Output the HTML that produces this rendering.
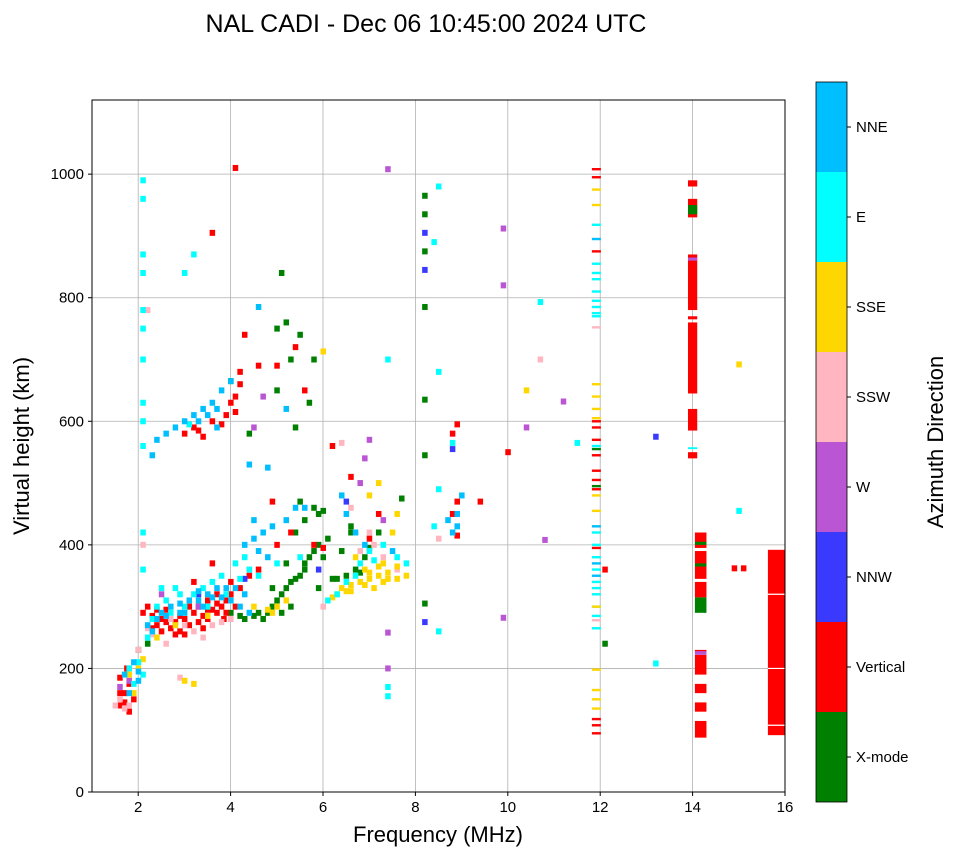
<!DOCTYPE html>
<html><head><meta charset="utf-8"><style>
body{margin:0;background:#fff;}
svg text{font-family:"Liberation Sans",sans-serif;}
</style></head><body>
<svg id="chart" width="958" height="857" xmlns="http://www.w3.org/2000/svg">
<text x="426" y="32" font-size="25" text-anchor="middle">NAL CADI - Dec 06 10:45:00 2024 UTC</text>
<g id="grid"></g><g id="marks"></g><g id="axes"></g><g id="cbar"></g>
</svg>
<script>
const categories=["X-mode","Vertical","NNW","W","SSW","SSE","E","NNE"];
const catColors=["#008000","#ff0000","#3a3aff","#ba55d3","#ffb6c1","#ffd700","#00ffff","#00bfff"];
const xTicks=[2,4,6,8,10,12,14,16];
const yTicks=[0,200,400,600,800,1000];
const xmodePts=[[2.0,230],[2.2,240],[4.0,290],[4.3,280],[4.5,285],[4.7,280],[4.9,300],[5.1,320],[5.3,340],[5.5,350],[5.7,380],[5.9,400],[5.4,420],[5.6,440],[5.8,460],[6.0,455],[5.2,370],[4.9,330],[6.3,345],[6.5,350],[6.7,360],[6.9,380],[7.2,420],[7.7,475],[6.6,430],[5.0,750],[5.5,740],[5.3,700],[5.0,650],[5.2,760],[5.1,840],[5.8,700],[5.7,630],[8.2,965],[8.2,935],[8.2,875],[8.2,785],[8.2,635],[8.2,545],[8.2,305],[12.1,240],[4.0,665],[4.4,580],[5.4,590],[4.6,290],[5.0,310],[5.6,360],[5.2,330],[5.4,345],[5.6,370],[5.8,390],[4.8,290],[5.3,300],[6.1,410],[6.4,390],[6.6,420],[7.0,395],[5.5,470],[5.9,450],[6.2,345],[6.8,355],[4.2,285],[5.1,290],[5.9,330],[6.0,380]];
const verticalPts=[[1.6,140],[1.7,160],[1.8,175],[1.6,185],[1.9,150],[1.75,200],[2.1,290],[2.2,300],[2.3,285],[2.4,270],[2.5,280],[2.6,295],[2.7,265],[2.8,275],[2.9,260],[3.0,280],[3.1,270],[3.2,290],[3.3,300],[3.4,285],[3.5,310],[3.6,295],[3.7,320],[3.8,300],[3.9,290],[3.85,280],[3.7,290],[3.0,255],[2.5,260],[3.5,280],[4.0,340],[4.2,330],[4.4,350],[3.6,370],[3.2,340],[3.0,580],[3.2,590],[3.4,575],[3.6,600],[3.8,595],[4.0,630],[4.1,640],[4.2,660],[4.2,680],[4.3,740],[4.1,1010],[3.6,905],[4.6,690],[5.0,690],[5.4,720],[5.6,650],[4.9,470],[5.0,400],[4.6,360],[5.8,400],[7.0,410],[7.2,450],[8.9,470],[8.8,450],[8.9,415],[9.4,470],[8.9,595],[8.8,580],[10.0,550],[6.0,395],[5.3,420],[6.2,560],[6.6,510],[12.1,360],[14.9,362],[15.1,362],[2.3,265],[2.6,275],[2.9,285],[3.1,300],[3.3,275],[3.5,295],[3.7,305],[3.9,310],[4.1,300],[2.4,295],[2.8,255],[3.4,265],[4.0,320],[1.7,145],[1.8,130],[1.6,160],[3.9,610],[4.1,615],[3.3,585]];
const nnwPts=[[8.2,905],[8.2,845],[8.2,275],[8.8,555],[13.2,575],[4.3,345],[5.9,360],[6.5,470],[3.3,320]];
const wPts=[[1.8,180],[2.5,320],[3.3,300],[4.5,590],[6.8,500],[7.0,570],[7.4,1008],[7.4,258],[7.4,200],[9.9,912],[9.9,820],[9.9,282],[10.4,590],[10.8,408],[11.2,632],[6.9,540],[7.3,440],[4.7,640],[1.6,170]];
const sswPts=[[1.5,140],[1.6,150],[1.8,140],[2.0,230],[2.3,255],[2.6,240],[2.9,185],[3.2,260],[3.4,250],[3.6,270],[4.0,280],[6.0,300],[6.4,565],[6.6,460],[7.0,420],[7.3,380],[7.6,360],[10.7,700],[8.5,410],[2.1,400],[2.2,780],[1.7,135],[2.2,265],[2.7,280],[3.0,270],[3.8,275],[6.8,390],[7.1,400]];
const ssePts=[[1.9,160],[2.0,200],[2.4,250],[2.8,270],[3.0,180],[3.2,175],[3.5,285],[4.5,300],[4.8,295],[5.0,300],[5.2,310],[6.2,315],[6.4,330],[6.6,335],[6.8,340],[7.0,345],[7.2,350],[7.4,355],[7.6,345],[7.8,350],[6.7,380],[6.9,360],[7.1,330],[7.3,370],[7.5,420],[7.0,480],[7.6,450],[10.4,650],[15.0,692],[6.0,713],[7.2,500],[6.5,325],[6.9,335],[7.3,340],[6.6,325],[7.0,355],[7.4,345],[7.6,365],[1.8,190],[2.1,215],[6.3,320],[7.2,365],[4.9,290]];
const ePts=[[1.8,200],[2.0,210],[2.1,190],[2.2,250],[2.4,300],[2.6,310],[2.8,330],[3.2,320],[3.4,330],[3.6,340],[3.8,350],[4.1,370],[4.3,380],[4.6,350],[5.0,370],[5.5,380],[6.1,310],[6.3,320],[6.5,340],[6.8,370],[7.0,390],[7.3,400],[7.6,380],[7.8,370],[2.1,990],[2.1,960],[2.1,870],[2.1,840],[2.1,780],[2.1,750],[2.1,700],[2.1,630],[2.1,600],[2.1,560],[3.0,840],[3.2,870],[8.5,980],[8.4,890],[8.5,680],[8.5,490],[8.4,430],[8.5,260],[10.7,793],[11.5,565],[13.2,208],[15.0,455],[7.4,700],[7.4,170],[7.4,155],[8.8,565],[2.1,360],[2.1,420],[2.3,280],[2.7,290],[3.0,300],[3.5,300],[3.9,320],[4.2,345],[4.4,360],[1.9,175],[2.5,330],[2.9,320],[6.7,350],[7.1,375],[3.1,595]];
const nnePts=[[1.7,190],[1.9,210],[2.0,180],[2.2,270],[2.3,260],[2.5,290],[2.7,300],[2.9,290],[3.1,310],[3.3,310],[3.5,320],[3.7,330],[3.9,330],[4.0,310],[4.2,300],[4.4,290],[4.3,400],[4.5,410],[4.7,420],[4.9,430],[4.8,380],[5.2,440],[5.4,460],[6.4,480],[6.5,450],[6.7,420],[6.9,400],[7.5,390],[2.4,570],[2.6,580],[2.8,590],[3.0,600],[3.2,610],[3.4,620],[3.6,630],[3.8,650],[4.0,665],[3.5,610],[3.7,590],[4.4,530],[4.8,525],[4.6,785],[5.2,620],[5.6,460],[8.9,450],[8.9,430],[9.0,480],[8.8,420],[8.7,440],[2.9,305],[3.3,325],[3.8,315],[2.4,280],[2.6,285],[3.0,290],[3.4,300],[3.6,315],[4.1,330],[4.3,320],[4.6,390],[1.8,160],[2.0,195],[2.3,545],[3.3,600],[3.7,620],[4.5,440]];
const col12Heights=[1008,995,875,600,590,570,545,520,505,490,395,118,108,95,918,855,840,830,810,795,785,775,770,560,420,400,380,360,340,330,320,300,285,265,975,950,660,640,620,605,480,455,300,198,150,165,135,752,278,895,430,370,350,555,495];
const col12Cats=[1,1,1,1,1,1,1,1,1,1,1,1,1,1,6,6,6,6,6,6,6,6,6,6,6,6,6,6,6,6,6,6,6,6,5,5,5,5,5,5,5,5,5,5,5,5,5,4,4,7,7,7,7,0,0];
const barF0=[13.9,13.9,13.9,13.9,13.9,13.9,13.9,13.9,13.9,13.9,14.05,14.05,14.05,14.05,14.05,14.05,14.05,14.05,14.05,14.05,14.05,14.05,15.63];
const barF1=[14.1,14.1,14.1,14.1,14.1,14.1,14.1,14.1,14.1,14.1,14.3,14.3,14.3,14.3,14.3,14.3,14.3,14.3,14.3,14.3,14.3,14.3,16.0];
const barH0=[540,585,645,765,780,930,980,935,860,555,88,130,160,190,225,315,345,395,290,400,365,222,92];
const barH1=[550,620,760,770,870,960,990,950,865,558,115,145,175,222,230,340,390,420,315,405,370,228,392];
const barCat=[1,1,1,1,1,1,1,0,3,6,1,1,1,1,1,1,1,1,0,0,0,3,1];
const whiteLines16=[108,200,320];

const NS="http://www.w3.org/2000/svg";
const L=92,R=785,T=100,B=792,xMin=1,xMax=16,yMin=0,yMax=1120;
const xs=f=>L+(f-xMin)/(xMax-xMin)*(R-L);
const ys=h=>B-(h-yMin)/(yMax-yMin)*(B-T);
function mk(tag,attrs,parent){const e=document.createElementNS(NS,tag);for(const k in attrs)e.setAttribute(k,attrs[k]);parent.appendChild(e);return e;}
const grid=document.getElementById('grid'),marks=document.getElementById('marks'),axes=document.getElementById('axes'),cbar=document.getElementById('cbar');
mk('rect',{x:L,y:T,width:R-L,height:B-T,fill:'#fff'},grid);
xTicks.forEach(t=>{const l=mk('line',{x1:xs(t),x2:xs(t),y1:T,y2:B,stroke:'#b0b0b0','stroke-width':0.8},grid);

});
yTicks.forEach(t=>{const l=mk('line',{x1:L,x2:R,y1:ys(t),y2:ys(t),stroke:'#b0b0b0','stroke-width':0.8},grid);

});
const series=[xmodePts,verticalPts,nnwPts,wPts,sswPts,ssePts,ePts,nnePts];
series.forEach((pts,ci)=>pts.forEach(p=>{
 const r=mk('rect',{x:xs(p[0])-2.5,y:ys(p[1])-3,width:5.5,height:6,fill:catColors[ci]},marks);
 
 
}));
col12Heights.forEach((h,i)=>{
 const r=mk('rect',{x:xs(11.82),y:ys(h)-1.2,width:9,height:2.4,fill:catColors[col12Cats[i]]},marks);
 
 
});
barF0.forEach((f,i)=>{
 const r=mk('rect',{x:xs(f),y:ys(barH1[i]),width:xs(barF1[i])-xs(f),height:ys(barH0[i])-ys(barH1[i]),fill:catColors[barCat[i]]},marks);
 
 
});
whiteLines16.forEach(h=>{mk('line',{x1:xs(15.63),x2:xs(16),y1:ys(h),y2:ys(h),stroke:'#fff','stroke-width':1.2},marks);});
mk('rect',{x:L,y:T,width:R-L,height:B-T,fill:'none',stroke:'#000','stroke-width':1},axes);
xTicks.forEach(t=>{mk('line',{x1:xs(t),x2:xs(t),y1:B,y2:B+4,stroke:'#000'},axes);
 const tx=mk('text',{x:xs(t),y:B+20,'font-size':15,'text-anchor':'middle'},axes);tx.textContent=t;
 
 });
yTicks.forEach(t=>{mk('line',{x1:L-4,x2:L,y1:ys(t),y2:ys(t),stroke:'#000'},axes);
 const tx=mk('text',{x:L-8,y:ys(t)+5,'font-size':15,'text-anchor':'end'},axes);tx.textContent=t;
 
 });
const xl=mk('text',{x:438,y:842,'font-size':22,'text-anchor':'middle'},axes);xl.textContent='Frequency (MHz)';


const yl=mk('text',{x:0,y:0,'font-size':22,'text-anchor':'middle',transform:'translate(29,446) rotate(-90)'},axes);yl.textContent='Virtual height (km)';


const cT=82,cB=802,cL=816,cW=31,seg=(cB-cT)/categories.length;
categories.forEach((c,i)=>{
 const y0=cB-(i+1)*seg;
 const r=mk('rect',{x:cL,y:y0,width:cW,height:seg,fill:catColors[i]},cbar);
 
 
 mk('line',{x1:cL+cW,x2:cL+cW+4,y1:y0+seg/2,y2:y0+seg/2,stroke:'#000'},cbar);
 const t=mk('text',{x:cL+cW+9,y:y0+seg/2+5,'font-size':15},cbar);t.textContent=c;
 
 
});
mk('rect',{x:cL,y:cT,width:cW,height:cB-cT,fill:'none',stroke:'#000','stroke-width':0.8},cbar);
const cl=mk('text',{x:0,y:0,'font-size':22,'text-anchor':'middle',transform:'translate(943,442) rotate(-90)'},cbar);cl.textContent='Azimuth Direction';


</script>
</body></html>
